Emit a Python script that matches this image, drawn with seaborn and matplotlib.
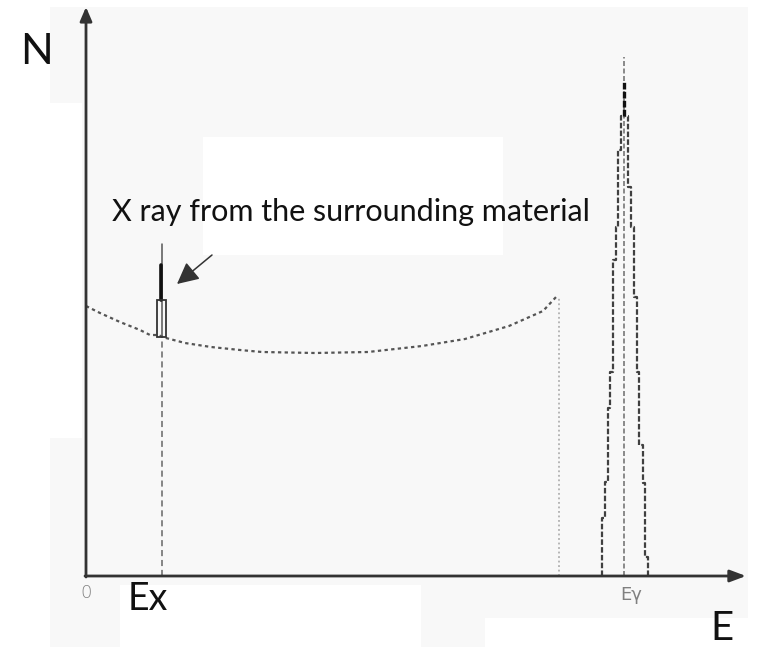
import matplotlib
matplotlib.use("Agg")
import matplotlib.pyplot as plt
from matplotlib.patches import Rectangle
import seaborn as sns
import pandas as pd

# ---- data (energy in channels, N in counts) ----
continuum_E = [0, 14, 34, 54, 64, 72, 80, 99, 125, 154, 176, 229, 282, 336, 379, 423, 457, 471]
continuum_N = [270, 263, 254, 246, 241, 241, 238, 233, 229, 226, 224, 223, 224, 230, 237, 250, 265, 280]
compton_edge_E = 473
compton_edge_N = 278

xray_E = 76
xray_top_N = 332
xray_core_N = [276, 311]
xray_box_E = [71, 80]
xray_box_N = [239, 276]

peak_E = 538
peak_top_N = 519
peak_core_N = [460, 496]
peak_left_E = [516, 519, 522, 524, 527, 530, 532, 535, 538]
peak_left_N = [0, 58, 94, 168, 204, 316, 349, 426, 460]
peak_right_E = [562, 559, 557, 553, 551, 548, 545, 542, 538]
peak_right_N = [0, 19, 93, 131, 204, 279, 349, 389, 460]

label_text = "X ray from the surrounding material"

sns.set_theme(style="white")
plt.rcParams["font.family"] = ["Lato", "DejaVu Sans"]

fig = plt.figure(figsize=(7.6, 6.47), dpi=100, facecolor="white")
ax = fig.add_axes([0, 0, 1, 1])
ax.set_xlim(-86, 674)
ax.set_ylim(-71, 576)
ax.axis("off")
ax.patch.set_alpha(0)

# faint paper tone behind the plot, with plain white panels
bg = "#f8f8f8"
ax.add_patch(Rectangle((-36, -71), 698, 640, fc=bg, ec="none", zorder=0))
for (x0, y0, w, h) in [(-36, 138, 32, 335), (117, 321, 300, 118),
                       (34, -71, 301, 62), (399, -71, 275, 29)]:
    ax.add_patch(Rectangle((x0, y0), w, h, fc="white", ec="none", zorder=0.5))

axis_col = "#333333"
# axes drawn as arrows
ax.annotate("", xy=(0, 569), xytext=(0, -1),
            arrowprops=dict(arrowstyle="-|>,head_length=0.7,head_width=0.3",
                            lw=2, color=axis_col, shrinkA=0, shrinkB=0), zorder=5)
ax.annotate("", xy=(660, 0), xytext=(-1, 0),
            arrowprops=dict(arrowstyle="-|>,head_length=0.8,head_width=0.3",
                            lw=2, color=axis_col, shrinkA=0, shrinkB=0), zorder=5)

# Compton continuum
cont = pd.DataFrame({"E": continuum_E, "N": continuum_N})
sns.lineplot(data=cont, x="E", y="N", ax=ax, sort=False, color="#555555",
             lw=1.6, linestyle=(0, (1.5, 1.5)), zorder=3)
# Compton edge
ax.plot([compton_edge_E, compton_edge_E], [0, compton_edge_N], color="#b0b0b0",
        lw=1.3, linestyle=(0, (1, 1.5)), zorder=2)

# X-ray line from the surrounding material
ax.plot([xray_E, xray_E], [0, xray_box_N[0]], color="#666666", lw=1.1,
        linestyle=(0, (4, 2.5)), zorder=2)
ax.plot([xray_E, xray_E], [xray_box_N[0], xray_top_N], color="#555555", lw=1.1, zorder=3)
ax.plot([xray_E - 1.5, xray_E - 1.5], xray_core_N, color="#111111", lw=2.6, zorder=4)
ax.add_patch(Rectangle((xray_box_E[0], xray_box_N[0]), xray_box_E[1] - xray_box_E[0],
                       xray_box_N[1] - xray_box_N[0], fc="none", ec="#333333",
                       lw=1.3, zorder=4))

# photopeak
peak_style = dict(color="#404040", lw=1.6, linestyle=(0, (2.5, 1)), zorder=3)
sns.lineplot(x=peak_left_E, y=peak_left_N, ax=ax, sort=False,
             drawstyle="steps-pre", **peak_style)
sns.lineplot(x=peak_right_E, y=peak_right_N, ax=ax, sort=False,
             drawstyle="steps-pre", **peak_style)
ax.plot([peak_E, peak_E], [0, peak_top_N], color="#777777", lw=1.2,
        linestyle=(0, (3, 1.5)), zorder=3)
ax.plot([peak_E, peak_E], peak_core_N, color="#111111", lw=2.4,
        linestyle=(0, (2, 0.7)), zorder=4)

# annotation arrow
ax.annotate("", xy=(91, 292), xytext=(126, 321),
            arrowprops=dict(arrowstyle="-|>,head_length=1.1,head_width=0.55",
                            lw=1.1, color="#333333", shrinkA=0, shrinkB=0), zorder=5)

# labels
t = ax.text(26, 355, label_text, fontsize=20, color="#111111",
            ha="left", va="baseline", zorder=6)
fig.canvas.draw()
w = t.get_window_extent().width
t.set_fontsize(20 * 480 / w)

ax.text(-50, 524, "N", fontsize=31, color="#111111", ha="center", va="center", zorder=6)
ax.text(42, -34, "Ex", fontsize=27, color="#111111", ha="left", va="baseline", zorder=6)
ax.text(624, -64, "E", fontsize=29, color="#111111", ha="left", va="baseline", zorder=6)
ax.text(0, -17, "0", fontsize=13, color="#808080", ha="center", va="center",
        family="DejaVu Sans", fontweight="light", zorder=6)
ax.text(545, -19, "Eγ", fontsize=13, color="#808080", ha="center", va="center",
        family="DejaVu Sans", zorder=6)

fig.savefig("out.png", dpi=100, facecolor="white")
